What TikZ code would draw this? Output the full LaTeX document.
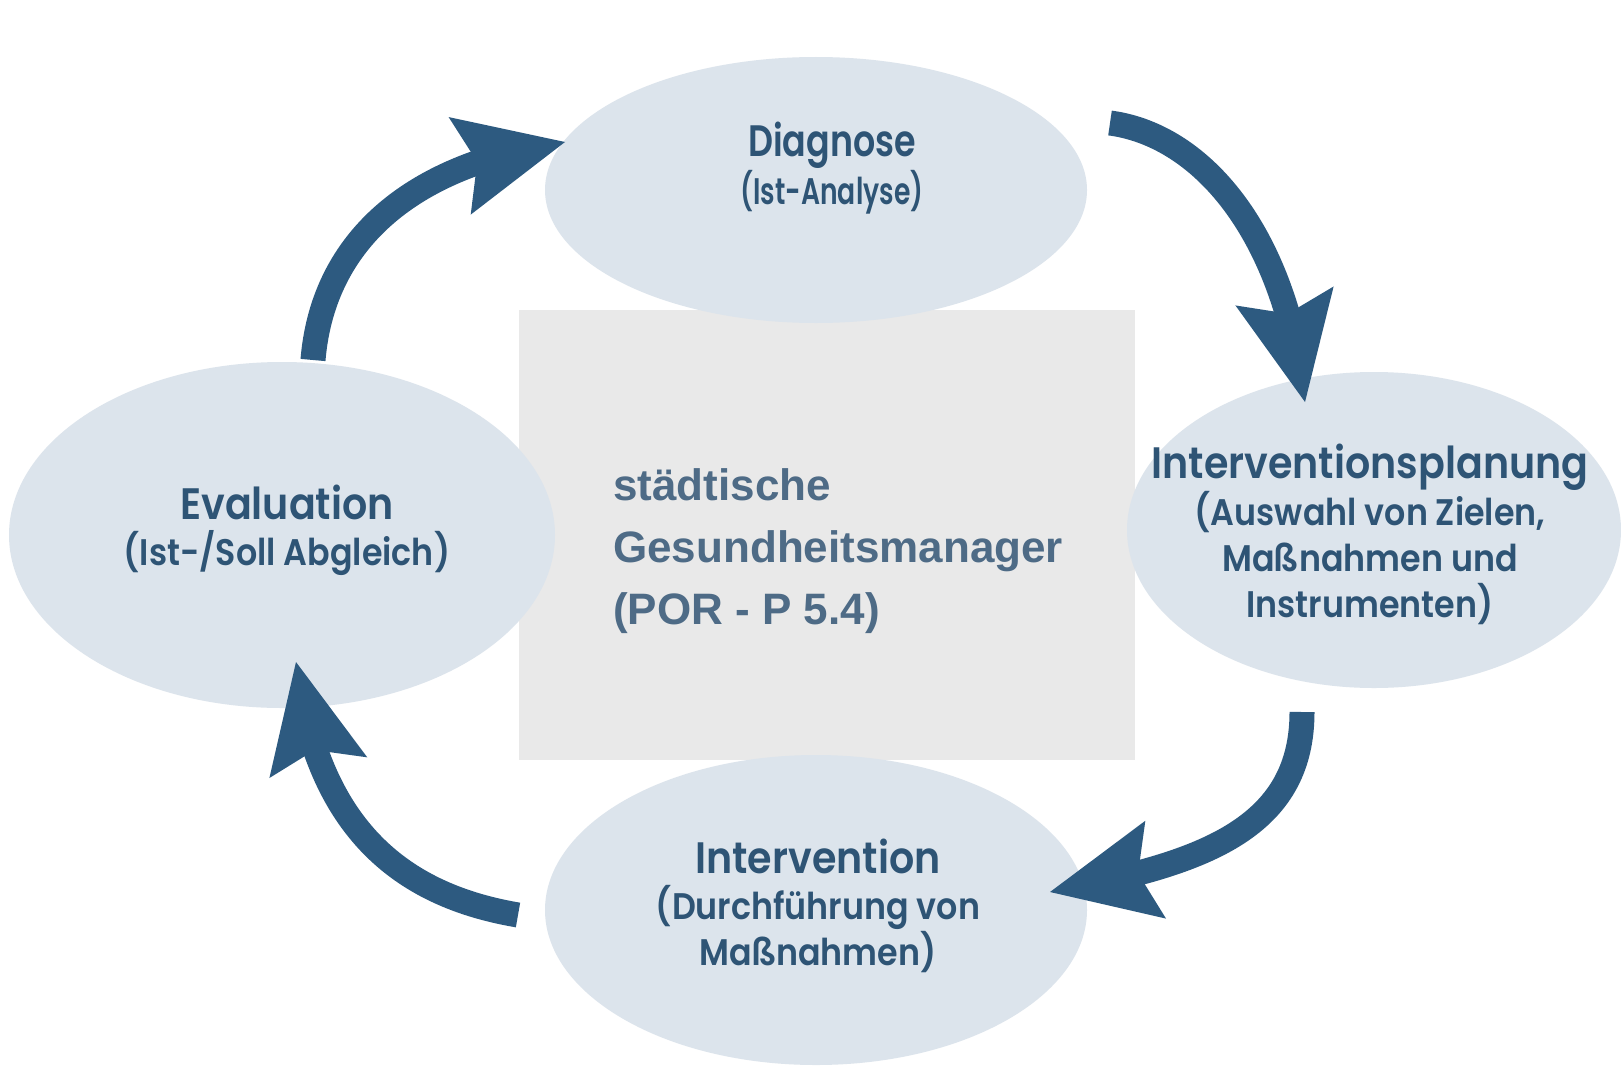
\documentclass[tikz,border=0pt]{standalone}
\usepackage{fontspec}
\newfontfamily\fut{Poppins SemiBold}[FakeStretch=0.9]
\newfontfamily\arialf{Liberation Sans}
\usetikzlibrary{shapes.geometric,arrows.meta,bending}
\definecolor{arrowc}{HTML}{2D5A80}
\definecolor{ellc}{HTML}{DCE4EC}
\definecolor{rectc}{HTML}{E9E9E9}
\definecolor{txtc}{HTML}{2E5475}
\definecolor{ctxt}{HTML}{4E6B86}
\newcommand{\phasetitle}[1]{{\fontsize{44}{48}\selectfont #1}}
\begin{document}
\begin{tikzpicture}[x=1pt,y=-1pt,
  phase/.style={ellipse, fill=ellc, draw=none, inner sep=0pt},
  phasetext/.style={align=center, text=txtc, inner sep=0pt,
    font=\fut\fontsize{37}{46}\selectfont},
  cyc/.style={draw=arrowc, line width=25pt,
    -{Stealth[length=108pt, width=100pt, inset=18pt, line width=0pt, flex]}}
]
\useasboundingbox (0,0) rectangle (1621,1065);
\fill[white] (0,0) rectangle (1621,1065);

% central box
\node[fill=rectc, minimum width=616pt, minimum height=450pt, inner sep=0pt] (mgr) at (827,535) {};

% phases
\node[phase, minimum width=542pt, minimum height=266pt] (diag) at (816,190) {};
\node[phase, minimum width=494pt, minimum height=316pt] (plan) at (1374,530) {};
\node[phase, minimum width=546pt, minimum height=346pt] (eval) at (282,535) {};
\node[phase, minimum width=542pt, minimum height=310pt] (interv) at (816,910) {};

% texts
\node[anchor=west, align=left, text=ctxt, inner sep=0pt,
  font=\arialf\bfseries\fontsize{44}{62}\selectfont] (mgrT) at (613,551)
  {städtische\\Gesundheitsmanager\\(POR - P 5.4)};

\node[phasetext] (diagT) at (832,168)
  {\phasetitle{\scalebox{0.88}[1]{Diagnose}}\\\scalebox{0.8}[1]{(Ist-Analyse)}};
\node[phasetext] (planT) at (1370,534)
  {\phasetitle{Interventionsplanung}\\(Auswahl von Zielen,\\Maßnahmen und\\Instrumenten)};
\node[phasetext] (evalT) at (287,530)
  {\phasetitle{Evaluation}\\(Ist-/Soll Abgleich)};
\node[phasetext] (intervT) at (818,906)
  {\phasetitle{Intervention}\\(Durchführung von\\Maßnahmen)};

% cycle arrows
\draw[cyc] ([shift={(31,-175)}]eval.center) .. controls +(9,-110) and +(-165,23) .. ([shift={(-251,-48)}]diag.center);
\draw[cyc] ([shift={(294,-67)}]diag.center) .. controls +(90,12) and +(-20,-172) .. ([shift={(-69,-128)}]plan.center);
\draw[cyc] ([shift={(-72,182)}]plan.center) .. controls +(0,118) and +(150,-27) .. ([shift={(234,-18)}]interv.center);
\draw[cyc] ([shift={(-298,5)}]interv.center) .. controls +(-118,-20) and +(20,165) .. ([shift={(14,127)}]eval.center);
\end{tikzpicture}
\end{document}
